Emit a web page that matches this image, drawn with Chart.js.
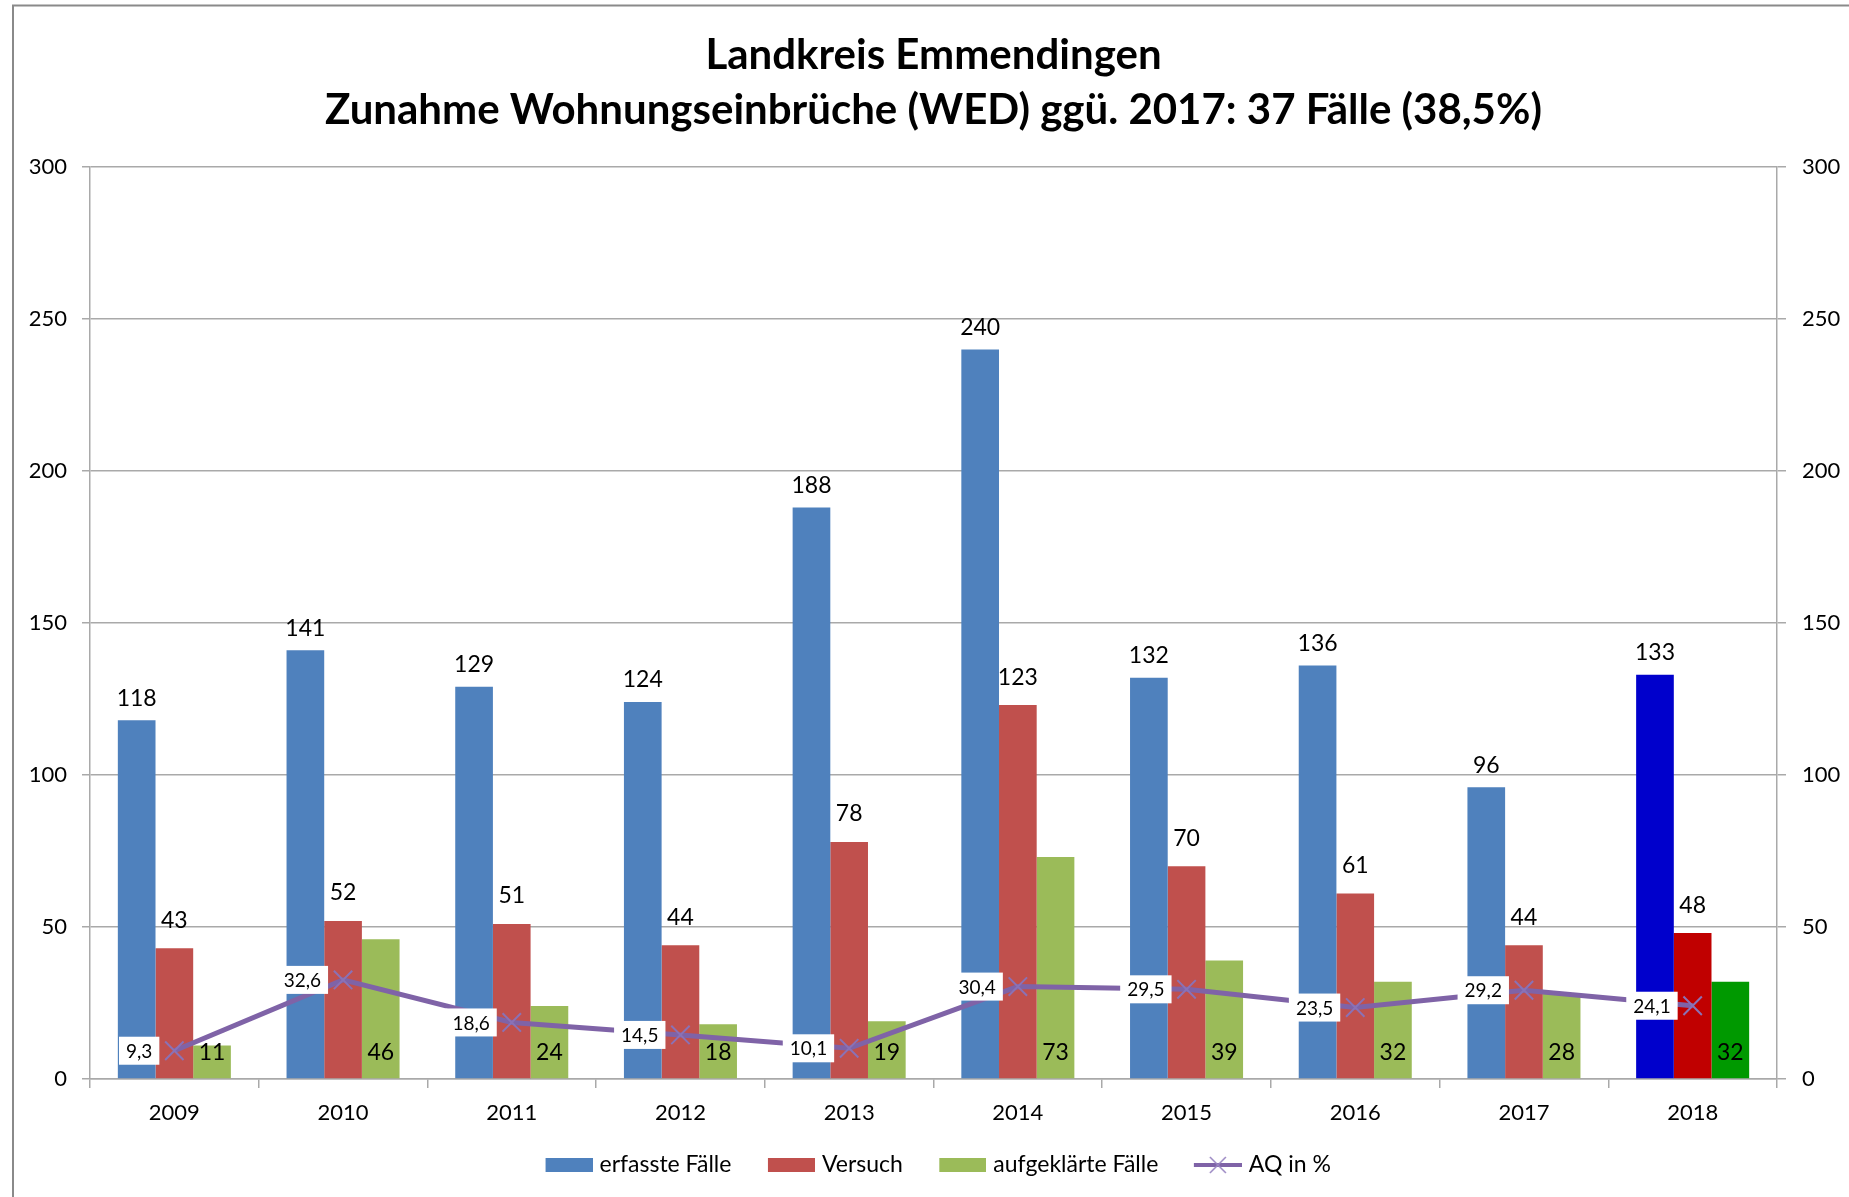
<!DOCTYPE html>
<html lang="de">
<head>
<meta charset="utf-8">
<title>Landkreis Emmendingen – Wohnungseinbrüche</title>
<script src="https://cdn.jsdelivr.net/npm/chart.js@4.4.1/dist/chart.umd.min.js"></script>
<style>
  html, body { margin: 0; padding: 0; background: #fff; }
  canvas { display: block; }
</style>
</head>
<body>
<canvas id="wedChart" width="1849" height="1197"></canvas>
<script>
// WED-Statistik Landkreis Emmendingen 2009–2018
const years = ["2009", "2010", "2011", "2012", "2013", "2014", "2015", "2016", "2017", "2018"];
const erfassteFaelle = [118, 141, 129, 124, 188, 240, 132, 136, 96, 133];
const versuche = [43, 52, 51, 44, 78, 123, 70, 61, 44, 48];
const aufgeklaerteFaelle = [11, 46, 24, 18, 19, 73, 39, 32, 28, 32];
const aufklaerungsquote = [9.3, 32.6, 18.6, 14.5, 10.1, 30.4, 29.5, 23.5, 29.2, 24.1];
const yTicks = [0, 50, 100, 150, 200, 250, 300];

const titleLines = [
  "Landkreis Emmendingen",
  "Zunahme Wohnungseinbrüche (WED) ggü. 2017: 37 Fälle (38,5%)"
];

const FONT = "Lato";
const GRID = "#a9a9a9";
const BLUE = "#4F81BD", RED = "#C0504D", GREEN = "#9BBB59", PURPLE = "#7F63A7";
// current year is highlighted
const BLUE_NOW = "#0000CC", RED_NOW = "#C00000", GREEN_NOW = "#009900";
const lastIdx = years.length - 1;

function pick(normal, current) {
  return (c) => (c.dataIndex === lastIdx ? current : normal);
}

// legend icons: 47px symbol sitting in the right part of a 61px canvas
function boxIcon(color) {
  const c = document.createElement("canvas");
  c.width = 61; c.height = 14;
  const g = c.getContext("2d");
  g.fillStyle = color;
  g.fillRect(14, 0, 47, 14);
  return c;
}

function lineIcon(color) {
  const c = document.createElement("canvas");
  c.width = 61; c.height = 22;
  const g = c.getContext("2d");
  g.strokeStyle = color;
  g.lineWidth = 4;
  g.beginPath(); g.moveTo(13, 11); g.lineTo(61, 11); g.stroke();
  g.strokeStyle = "#9A86C2";
  g.lineWidth = 1.5;
  g.beginPath();
  g.moveTo(29, 3); g.lineTo(45, 19);
  g.moveTo(45, 3); g.lineTo(29, 19);
  g.stroke();
  return c;
}

const legendIcons = [boxIcon(BLUE), boxIcon(RED), boxIcon(GREEN), lineIcon(PURPLE)];

// white background plus the grey frame of the chart object
const framePlugin = {
  id: "frame",
  beforeDraw(chart) {
    const { ctx, width, height } = chart;
    ctx.save();
    ctx.fillStyle = "#fff";
    ctx.fillRect(0, 0, width, height);
    ctx.strokeStyle = "#8a8a8a";
    ctx.lineWidth = 2;
    ctx.beginPath();
    ctx.moveTo(13, height + 5);
    ctx.lineTo(13, 5.5);
    ctx.lineTo(width + 5, 5.5);
    ctx.stroke();
    ctx.restore();
  }
};

// value labels: above the bars, inside base for solved cases, boxed for the quota
const valueLabels = {
  id: "valueLabels",
  afterDatasetsDraw(chart) {
    const ctx = chart.ctx;
    ctx.save();
    ctx.textAlign = "center";
    ctx.textBaseline = "middle";
    ctx.fillStyle = "#000";
    ctx.font = "23px " + FONT;
    const gaps = { 0: 22, 1: 28 };
    [0, 1, 2].forEach((i) => {
      const ds = chart.data.datasets[i];
      chart.getDatasetMeta(i).data.forEach((bar, j) => {
        const y = i === 2 ? bar.base - 26 : bar.y - gaps[i];
        ctx.fillText(String(ds.data[j]), bar.x, y);
      });
    });

    const lineDs = chart.data.datasets[3];
    ctx.font = "19px " + FONT;
    ctx.textAlign = "right";
    chart.getDatasetMeta(3).data.forEach((pt, j) => {
      const txt = lineDs.data[j].toFixed(1).replace(".", ",");
      const w = ctx.measureText(txt).width;
      const right = pt.x - 15;
      ctx.fillStyle = "#fff";
      ctx.fillRect(right - w - 14, pt.y - 14, w + 14, 28);
      ctx.fillStyle = "#000";
      ctx.fillText(txt, right - 7, pt.y + 1);
    });
    ctx.restore();
  }
};

function build() {
  Chart.defaults.font.family = FONT;
  Chart.defaults.color = "#000";

  new Chart(document.getElementById("wedChart"), {
    type: "bar",
    data: {
      labels: years,
      datasets: [
        {
          label: "erfasste Fälle",
          data: erfassteFaelle,
          backgroundColor: pick(BLUE, BLUE_NOW),
          order: 1
        },
        {
          label: "Versuch",
          data: versuche,
          backgroundColor: pick(RED, RED_NOW),
          order: 1
        },
        {
          label: "aufgeklärte Fälle",
          data: aufgeklaerteFaelle,
          backgroundColor: pick(GREEN, GREEN_NOW),
          order: 1
        },
        {
          type: "line",
          label: "AQ in %",
          data: aufklaerungsquote,
          borderColor: PURPLE,
          borderWidth: 5,
          pointStyle: "crossRot",
          pointRadius: 13,
          pointBorderWidth: 2,
          pointBorderColor: "#8A72B6",
          pointBackgroundColor: "#8A72B6",
          tension: 0,
          yAxisID: "y",
          order: 0
        }
      ]
    },
    options: {
      responsive: false,
      animation: false,
      events: [],
      layout: { padding: { top: 0, bottom: 10.5, left: 18, right: 0 } },
      datasets: {
        bar: { categoryPercentage: 0.67, barPercentage: 1.0 }
      },
      plugins: {
        tooltip: { enabled: false },
        title: {
          display: true,
          text: titleLines,
          color: "#000",
          font: { size: 42, weight: "bold", lineHeight: "55px" },
          padding: { top: 28, bottom: 29 }
        },
        legend: {
          position: "bottom",
          maxHeight: 60,
          labels: {
            color: "#000",
            font: { size: 23 },
            padding: 27,
            usePointStyle: true,
            pointStyleWidth: 52,
            boxHeight: 14,
            generateLabels(chart) {
              const items = Chart.defaults.plugins.legend.labels.generateLabels(chart);
              items.sort((a, b) => a.datasetIndex - b.datasetIndex);
              items.forEach((it) => { it.pointStyle = legendIcons[it.datasetIndex]; });
              return items;
            }
          }
        }
      },
      scales: {
        x: {
          offset: true,
          grid: {
            display: true,
            drawOnChartArea: false,
            offset: true,
            tickLength: 9,
            color: GRID,
            lineWidth: 1.5
          },
          border: { display: true, color: GRID, width: 1.5 },
          ticks: { font: { size: 22, lineHeight: 1.1 }, padding: 13 },
          afterFit(scale) { scale.height = 47.5; }
        },
        y: {
          position: "left",
          min: 0,
          max: 300,
          afterBuildTicks(scale) { scale.ticks = yTicks.map((v) => ({ value: v })); },
          grid: { color: GRID, lineWidth: 1.5, tickLength: 8 },
          border: { display: true, color: GRID, width: 1.5 },
          ticks: { font: { size: 22 }, padding: 15 },
          afterFit(scale) { scale.width = 72; }
        },
        y2: {
          position: "right",
          min: 0,
          max: 300,
          afterBuildTicks(scale) { scale.ticks = yTicks.map((v) => ({ value: v })); },
          grid: { drawOnChartArea: false, color: GRID, lineWidth: 1.5, tickLength: 9 },
          border: { display: true, color: GRID, width: 1.5 },
          ticks: { font: { size: 22 }, padding: 16 },
          afterFit(scale) { scale.width = 72; }
        }
      }
    },
    plugins: [framePlugin, valueLabels]
  });
}

Promise.all([
  document.fonts.load("bold 42px " + FONT),
  document.fonts.load("22px " + FONT)
]).then(build, build);
</script>
</body>
</html>
